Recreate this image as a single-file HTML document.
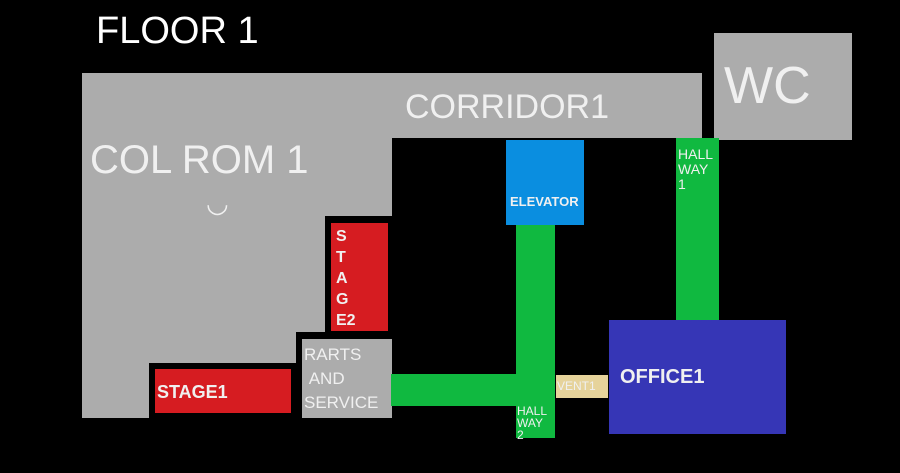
<!DOCTYPE html>
<html><head><style>
body{margin:0;background:#000;width:900px;height:473px;overflow:hidden;position:relative;font-family:"Liberation Sans",sans-serif}
div{position:absolute}
.g{background:#acacac}.k{background:#000}.r{background:#d61c21}.gr{background:#10b940}
.t{color:#f0f0f0;font-weight:normal;white-space:nowrap;line-height:1}
</style></head><body>
<div class="t" style="left:96px;top:12px;font-size:38px;color:#fff">FLOOR 1</div>
<div class="g" style="left:82px;top:73px;width:620px;height:65px"></div>
<div class="g" style="left:82px;top:138px;width:310px;height:280px"></div>
<div class="k" style="left:325px;top:216px;width:67px;height:123px"></div>
<div class="k" style="left:296px;top:332px;width:96px;height:7px"></div>
<div class="k" style="left:296px;top:332px;width:6px;height:86px"></div>
<div class="k" style="left:149px;top:363px;width:153px;height:55px"></div>
<div class="r" style="left:331px;top:223px;width:57px;height:108px"></div>
<div class="r" style="left:155px;top:369px;width:136px;height:44px"></div>
<div class="g" style="left:302px;top:339px;width:88px;height:79px"></div>
<div class="g" style="left:714px;top:33px;width:138px;height:107px"></div>
<div class="gr" style="left:676px;top:138px;width:43px;height:182px"></div>
<div style="left:506px;top:140px;width:78px;height:85px;background:#0a8ee0"></div>
<div class="gr" style="left:516px;top:225px;width:39px;height:213px"></div>
<div class="gr" style="left:391px;top:374px;width:164px;height:32px"></div>
<div style="left:556px;top:375px;width:52px;height:23px;background:#e6d39b"></div>
<div style="left:609px;top:320px;width:177px;height:114px;background:#3636b6"></div>
<div class="t" style="left:405px;top:90px;font-size:34px">CORRIDOR1</div>
<div class="t" style="left:90px;top:140px;font-size:40px">COL ROM 1</div>
<div class="t" style="left:206px;top:190px;font-size:26px">◡</div>
<div class="t" style="left:724px;top:60px;font-size:52px">WC</div>
<div class="t" style="left:678px;top:147px;font-size:14px;line-height:15px">HALL<br>WAY<br>1</div>
<div class="t" style="left:510px;top:195px;font-size:13px;font-weight:bold">ELEVATOR</div>
<div class="t" style="left:336px;top:226px;font-size:16px;line-height:21px;font-weight:bold">S<br>T<br>A<br>G<br>E2</div>
<div class="t" style="left:157px;top:383px;font-size:18px;font-weight:bold">STAGE1</div>
<div class="t" style="left:304px;top:343px;font-size:17px;line-height:24px">RARTS<br>&nbsp;AND<br>SERVICE</div>
<div class="t" style="left:517px;top:405px;font-size:12px;line-height:12px">HALL<br>WAY<br>2</div>
<div class="t" style="left:557px;top:380px;font-size:12px">VENT1</div>
<div class="t" style="left:620px;top:367px;font-size:20px;font-weight:bold">OFFICE1</div>
</body></html>
